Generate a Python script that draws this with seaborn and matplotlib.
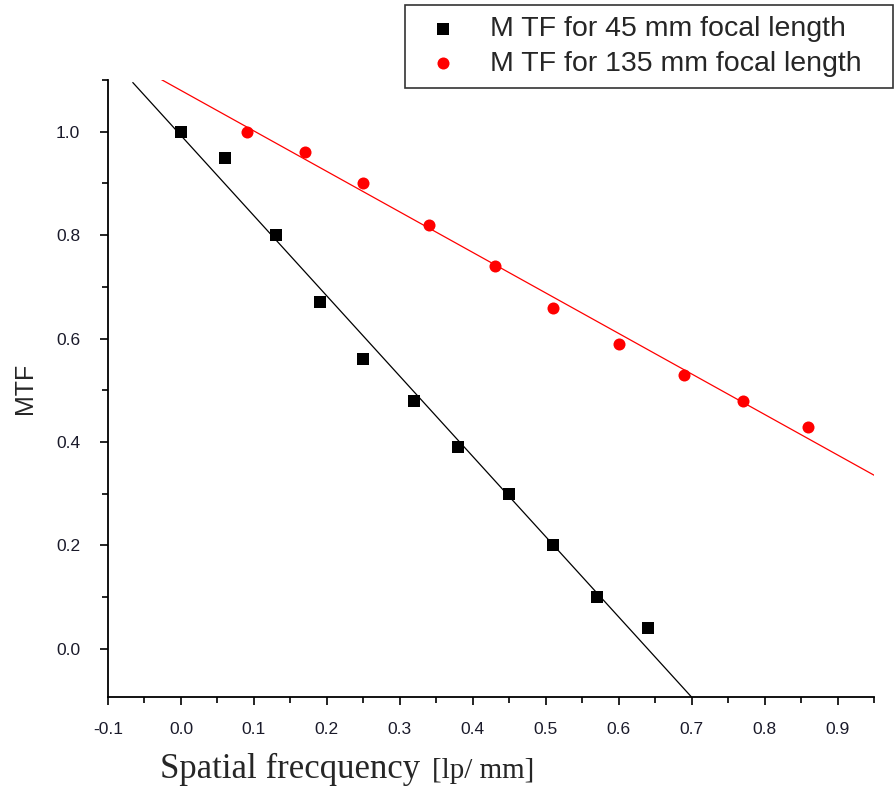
import numpy as np
import pandas as pd
import matplotlib
matplotlib.use("Agg")
import matplotlib.pyplot as plt
from matplotlib.ticker import MultipleLocator, FixedLocator
import seaborn as sns

# ---- data ----
freq_45 = [0.00, 0.06, 0.13, 0.19, 0.25, 0.32, 0.38, 0.45, 0.51, 0.57, 0.64]
mtf_45 = [1.00, 0.95, 0.80, 0.67, 0.56, 0.48, 0.39, 0.30, 0.20, 0.10, 0.04]
freq_135 = [0.09, 0.17, 0.25, 0.34, 0.43, 0.51, 0.60, 0.69, 0.77, 0.86]
mtf_135 = [1.00, 0.96, 0.90, 0.82, 0.74, 0.66, 0.59, 0.53, 0.48, 0.43]
# extent of the fitted lines (x range where they are drawn)
fit_range_45 = [-0.066, 0.72]
fit_range_135 = [-0.03, 0.95]
label_45 = "M TF for 45 mm focal length"
label_135 = "M TF for 135 mm focal length"
x_ticks = [-0.1, 0.0, 0.1, 0.2, 0.3, 0.4, 0.5, 0.6, 0.7, 0.8, 0.9]
y_ticks = [0.0, 0.2, 0.4, 0.6, 0.8, 1.0]

sns.set_style("ticks")
plt.rcParams['font.family'] = ['Liberation Sans', 'DejaVu Sans']

fig = plt.figure(figsize=(8.95, 7.94), dpi=100)
ax = fig.add_axes([108/895, 1-697/794, (874-108)/895, (697-80)/794])

df45 = pd.DataFrame({"x": freq_45, "y": mtf_45})
df135 = pd.DataFrame({"x": freq_135, "y": mtf_135})

# linear fits
b45, a45 = np.polyfit(freq_45, mtf_45, 1)
b135, a135 = np.polyfit(freq_135, mtf_135, 1)
fx45 = np.array(fit_range_45)
fx135 = np.array(fit_range_135)
fit45 = pd.DataFrame({"x": fx45, "y": a45 + b45 * fx45})
fit135 = pd.DataFrame({"x": fx135, "y": a135 + b135 * fx135})

sns.lineplot(data=fit45, x="x", y="y", color="black", lw=0.9, ax=ax, zorder=2)
sns.lineplot(data=fit135, x="x", y="y", color="red", lw=0.9, ax=ax, zorder=2)
sns.scatterplot(data=df45, x="x", y="y", marker="s", s=80, color="black",
                edgecolor="black", linewidth=0, ax=ax, zorder=3, label=label_45)
sns.scatterplot(data=df135, x="x", y="y", marker="o", s=75, color="red",
                edgecolor="red", linewidth=0, ax=ax, zorder=3, label=label_135)

ax.set_xlim(-0.1, 0.95)
ax.set_ylim(-0.093, 1.1)
ax.xaxis.set_major_locator(FixedLocator(x_ticks))
ax.yaxis.set_major_locator(FixedLocator(y_ticks))
ax.xaxis.set_minor_locator(MultipleLocator(0.05))
ax.yaxis.set_minor_locator(MultipleLocator(0.1))
ax.set_xticklabels([f"{v:.1f}" for v in x_ticks])
ax.set_yticklabels([f"{v:.1f}" for v in y_ticks])
ax.tick_params(axis="both", which="major", direction="out", length=6, width=1.2,
               labelsize=12.5, color="black", labelcolor="#1a1a2a")
ax.tick_params(axis="both", which="minor", direction="out", length=4, width=1.2,
               color="black")
ax.tick_params(axis="x", pad=12)
ax.tick_params(axis="y", pad=14)
for s in ["top", "right"]:
    ax.spines[s].set_visible(False)
for s in ["left", "bottom"]:
    ax.spines[s].set_linewidth(1.3)
    ax.spines[s].set_color("black")

ax.set_xlabel("")
ax.set_ylabel("MTF", fontsize=18, labelpad=14)

fig.text(160/895, 1-778/794, "Spatial frecquency", family=['Liberation Serif', 'DejaVu Serif'],
         fontsize=25, va="baseline", ha="left")
fig.text(432/895, 1-778/794, "[lp/ mm]", family=['Liberation Serif', 'DejaVu Serif'],
         fontsize=21, va="baseline", ha="left")

handles, labels = ax.get_legend_handles_labels()
ax.get_legend().remove()
leg = fig.legend(handles, labels, loc="upper left",
                 bbox_to_anchor=(405/895, 1-5/794, (893-405)/895, 0.0),
                 mode="expand", fontsize=20.5, frameon=True, fancybox=False,
                 borderpad=0.4, handlelength=1.9, handletextpad=0.7,
                 labelspacing=0.3, borderaxespad=0, markerscale=1.0)
leg.get_frame().set_edgecolor("black")
leg.get_frame().set_linewidth(1.2)

fig.savefig("out.png", dpi=100)
